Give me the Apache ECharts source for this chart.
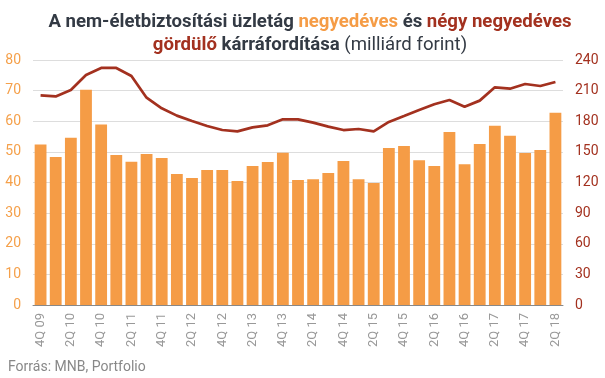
<!DOCTYPE html>
<html><head><meta charset="utf-8">
<script src="https://cdn.jsdelivr.net/npm/echarts@6/dist/echarts.min.js"></script>
<style>html,body{margin:0;padding:0;background:#fff}#c{width:605px;height:378px}</style>
</head><body><div id="c"></div>
<script>
var categories = ['4Q 09','1Q 10','2Q 10','3Q 10','4Q 10','1Q 11','2Q 11','3Q 11','4Q 11','1Q 12','2Q 12','3Q 12','4Q 12','1Q 13','2Q 13','3Q 13','4Q 13','1Q 14','2Q 14','3Q 14','4Q 14','1Q 15','2Q 15','3Q 15','4Q 15','1Q 16','2Q 16','3Q 16','4Q 16','1Q 17','2Q 17','3Q 17','4Q 17','1Q 18','2Q 18'];
var quarterly = [52.4,48.3,54.6,70.3,58.9,49.0,46.8,49.3,48.0,42.8,41.5,44.1,44.1,40.5,45.4,46.7,49.7,40.8,41.1,43.1,47.0,41.1,39.8,51.3,51.9,47.3,45.4,56.5,46.0,52.6,58.5,55.3,49.6,50.6,62.8];
var rolling = [205.4,204.3,210.6,225.3,232.2,232.2,224.3,203.1,192.7,185.5,180.2,175.3,171.4,170.1,174.0,176.0,181.9,181.9,178.6,174.7,171.4,172.4,170.1,179.3,185.1,191.0,196.6,200.8,194.3,200.2,213.2,211.9,216.5,214.5,218.4];
var leftTicks = {min:0,max:80,interval:10};
var rightTicks = {min:0,max:240,interval:30};

var chart = echarts.init(document.getElementById('c'), null, {renderer:'canvas'});
var F = 'Roboto, "Noto Sans", sans-serif';
var TS = 18.6, LH = 23;
chart.setOption({
  animation:false,
  title:{
    left:305, textAlign:'center', top:6,
    text:'{b|A nem-életbiztosítási üzletág }{o|negyedéves}{b| és }{r|négy negyedéves}\n{r|gördülő}{b| kárráfordítása}{n| (milliárd forint)}',
    textStyle:{
      fontFamily:F, lineHeight:LH,
      rich:{
        b:{fontFamily:F,fontSize:TS,fontWeight:'bold',color:'#333a44',lineHeight:LH},
        o:{fontFamily:F,fontSize:TS,fontWeight:'bold',color:'#f59c46',lineHeight:LH},
        r:{fontFamily:F,fontSize:TS,fontWeight:'bold',color:'#a3311f',lineHeight:LH},
        n:{fontFamily:F,fontSize:TS,fontWeight:'normal',color:'#333a44',lineHeight:LH}
      }
    }
  },
  graphic:[{type:'text',left:8,top:360,style:{text:'Forrás: MNB, Portfolio',fill:'#888',font:'14px '+F}}],
  grid:{left:33,right:42,top:60,bottom:73},
  xAxis:{
    type:'category', data:categories,
    axisLine:{lineStyle:{color:'#888',width:1}},
    axisTick:{show:false},
    axisLabel:{interval:1,rotate:90,color:'#999',fontFamily:F,fontSize:13,margin:8}
  },
  yAxis:[
    {type:'value',min:leftTicks.min,max:leftTicks.max,interval:leftTicks.interval,
     axisLine:{show:false},axisTick:{show:false},
     splitLine:{lineStyle:{color:'#dddddd'}},
     axisLabel:{color:'#f5a04a',fontFamily:F,fontSize:14,margin:12}},
    {type:'value',min:rightTicks.min,max:rightTicks.max,interval:rightTicks.interval,
     axisLine:{show:false},axisTick:{show:false},splitLine:{show:false},
     axisLabel:{color:'#a3311f',fontFamily:F,fontSize:14,margin:12}}
  ],
  series:[
    {type:'bar',data:quarterly,yAxisIndex:0,barCategoryGap:'22%',itemStyle:{color:'#f59c46'}},
    {type:'line',data:rolling,yAxisIndex:1,symbol:'none',lineStyle:{color:'#a3311f',width:2.7},itemStyle:{color:'#a3311f'}}
  ]
});
</script></body></html>
